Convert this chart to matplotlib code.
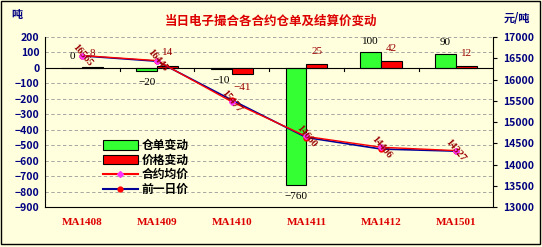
import matplotlib
matplotlib.use("Agg")
import matplotlib.pyplot as plt
from matplotlib.patches import Rectangle
from matplotlib.lines import Line2D
from matplotlib.patches import Patch

plt.rcParams['font.family'] = ['Noto Sans CJK SC', 'DejaVu Sans']

# data
contracts = ["MA1408", "MA1409", "MA1410", "MA1411", "MA1412", "MA1501"]
receipt_change = [0, -20, -10, -760, 100, 90]
price_change = [8, 14, -41, 25, 42, 12]
avg_price = [16565, 16445, 15477, 14660, 14406, 14327]
prev_price = [16557, 16431, 15518, 14635, 14364, 14315]

BG = "#FFFFDD"
NAVY = "#000080"
DARKRED = "#990000"

fig = plt.figure(figsize=(5.42, 2.47), dpi=100)
fig.patch.set_facecolor(BG)
fig.patches.append(Rectangle((0.002, 0.012), 0.994, 0.984, transform=fig.transFigure,
                             fill=False, edgecolor="black", linewidth=1.0))

ax = fig.add_axes([0.083, 0.162, 0.827, 0.688])
ax.set_facecolor(BG)
x = list(range(len(contracts)))
w = 0.28

ax.bar([i - w / 2 for i in x], receipt_change, width=w, color="#33FF33",
       edgecolor="black", linewidth=0.8, zorder=2)
ax.bar([i + w / 2 for i in x], price_change, width=w, color="#FF0000",
       edgecolor="black", linewidth=0.8, zorder=2)

ax.set_xlim(-0.5, len(contracts) - 0.5)
ax.set_ylim(-900, 200)
ax.set_yticks(range(-900, 201, 100))
ax.set_yticklabels([str(v).replace("-", "\u2212") for v in range(-900, 201, 100)],
                   fontsize=7.5, fontweight="bold", color=NAVY)
ax.grid(axis="y", linestyle=(0, (4, 3)), color="#999999", linewidth=0.6, zorder=0)
ax.axhline(0, color="black", linewidth=0.8, zorder=3)
ax.set_xticks([])
for i in range(1, len(contracts)):
    ax.plot([i - 0.5, i - 0.5], [0, -18], color="black", linewidth=0.8, zorder=3)
for i, name in enumerate(contracts):
    ax.text(i, -1000, name, ha="center", va="center", fontsize=8,
            fontweight="bold", color="#DD0000", family="Liberation Serif")

for s in ["top", "right"]:
    ax.spines[s].set_visible(False)
ax.spines["left"].set_color("black")
ax.spines["bottom"].set_color("black")
ax.tick_params(axis="y", length=0, pad=4)

# bar value labels
for i, v in enumerate(receipt_change):
    off = 5 if v >= 0 else -5
    ax.annotate(str(v).replace("-", "\u2212"), (i - w / 2, v), xytext=(0, off),
                textcoords="offset points", ha="center",
                va="bottom" if v >= 0 else "top", fontsize=8,
                family="Liberation Serif", color="black")
for i, v in enumerate(price_change):
    off = 6 if v >= 0 else -6
    ax.annotate(str(v).replace("-", "\u2212"), (i + w / 2, v), xytext=(0, off),
                textcoords="offset points", ha="center",
                va="bottom" if v >= 0 else "top", fontsize=8,
                family="Liberation Serif", color=DARKRED)

ax2 = ax.twinx()
ax2.set_ylim(13000, 17000)
ax2.set_yticks(range(13000, 17001, 500))
ax2.set_yticklabels([str(v) for v in range(13000, 17001, 500)],
                    fontsize=7.5, fontweight="bold", color=NAVY)
ax2.tick_params(axis="y", length=3, pad=4, color="black")
for s in ["top", "left", "bottom"]:
    ax2.spines[s].set_visible(False)
ax2.spines["right"].set_color("black")

ax2.plot(x, prev_price, color="#000099", linewidth=1.2, marker="o",
         markersize=3.5, markerfacecolor="#FF0000", markeredgecolor="#FF0000", zorder=4)
ax2.plot(x, avg_price, color="#FF0000", linewidth=1.0, marker="D",
         markersize=3, markerfacecolor="#FF33FF", markeredgecolor="#FF33FF", zorder=5)
for i, v in enumerate(avg_price):
    ax2.text(i, v, str(v), rotation=-50, ha="center", va="center", fontsize=7.5,
             fontweight="bold", color=DARKRED, family="Liberation Serif", zorder=6)

handles = [
    Patch(facecolor="#33FF33", edgecolor="black", linewidth=0.8),
    Patch(facecolor="#FF0000", edgecolor="black", linewidth=0.8),
    Line2D([], [], color="#FF0000", marker="D", markersize=3,
           markerfacecolor="#FF33FF", markeredgecolor="#FF33FF"),
    Line2D([], [], color="#000099", marker="o", markersize=3.5,
           markerfacecolor="#FF0000", markeredgecolor="#FF0000"),
]
labels = ["仓单变动", "价格变动", "合约均价", "前一日价"]
leg = ax.legend(handles, labels, loc="upper left", bbox_to_anchor=(0.11, 0.45),
                frameon=False, fontsize=8.5, handlelength=3.0, handleheight=0.9,
                labelspacing=0.15, handletextpad=0.3, borderpad=0.2)
for t in leg.get_texts():
    t.set_fontweight("bold")

fig.text(0.5, 0.915, "当日电子撮合各合约仓单及结算价变动", ha="center", va="center",
         fontsize=9, fontweight="bold", color="#DD0000")
fig.text(0.02, 0.94, "吨", ha="left", va="center", fontsize=8,
         fontweight="bold", color=NAVY)
fig.text(0.93, 0.925, "元/吨", ha="left", va="center", fontsize=8,
         fontweight="bold", color=NAVY)

fig.savefig("out.png", dpi=100, facecolor=fig.get_facecolor())
